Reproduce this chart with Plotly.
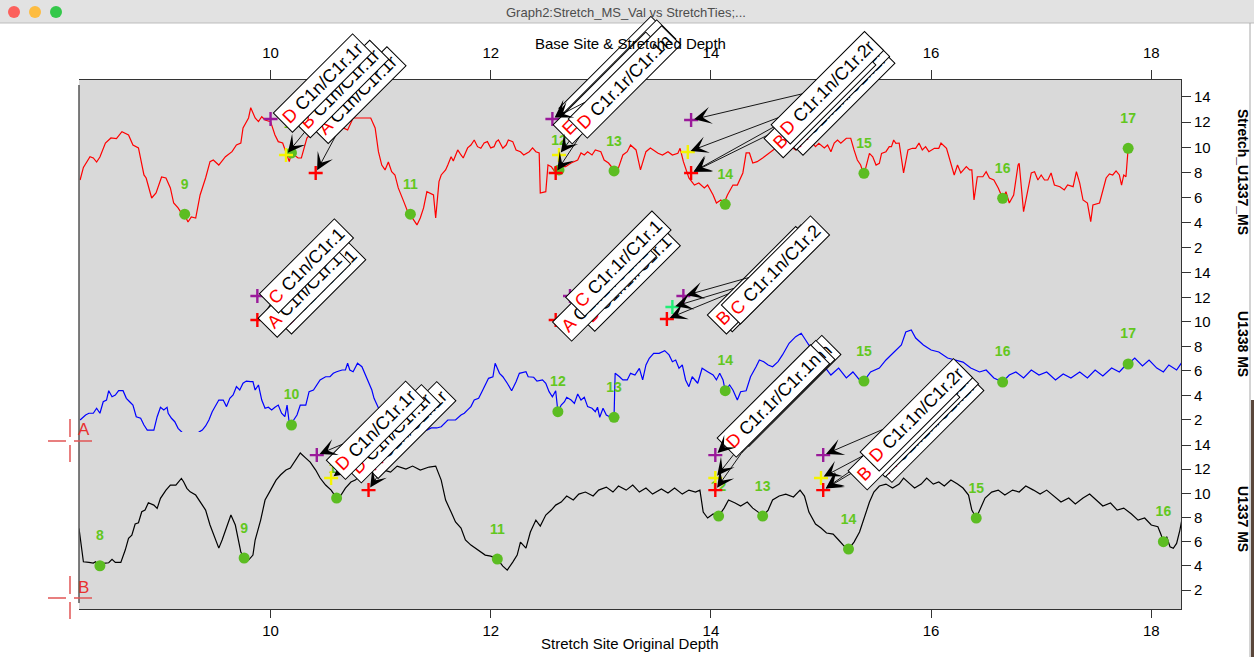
import plotly.graph_objects as go

FONT = "Liberation Sans, Arial, Helvetica, sans-serif"

# ---------------- data (depth, value) ----------------
red_pts = [(8.27,7.4),(8.30,8.4),(8.36,9.25),(8.39,9.15),(8.42,8.83),(8.45,9.23),(8.50,10.34),(8.55,10.74),(8.60,10.69),(8.65,11.24),
 (8.71,10.98),(8.75,10.18),(8.80,9.95),(8.85,7.80),(8.87,7.56),(8.92,5.97),(8.96,6.37),(9.01,7.64),(9.05,7.56),(9.09,6.77),
 (9.12,5.57),(9.16,5.18),(9.19,4.78),(9.22,4.62),(9.25,4.06),(9.28,4.46),(9.32,4.38),(9.36,6.21),(9.41,7.56),(9.45,8.86),
 (9.48,8.99),(9.53,8.59),(9.59,9.25),(9.65,9.65),(9.69,10.18),(9.73,10.34),(9.75,11.54),(9.80,12.33),(9.82,13.15),(9.86,12.33),
 (9.89,12.04),(9.92,12.43),(9.95,12.17),(10.00,12.04),(10.04,10.98),(10.07,10.45),(10.11,10.34),(10.13,9.79),(10.17,8.86),(10.19,9.55),
 (10.22,9.31),(10.25,9.15),(10.28,9.15),(10.33,10.74),(10.38,11.22),(10.44,11.54),(10.49,11.62),(10.55,11.64),(10.59,11.54),(10.64,11.64),
 (10.66,11.54),(10.70,11.38),(10.75,12.33),(10.84,12.33),(10.91,12.33),(10.95,11.54),(10.98,9.65),(11.01,8.59),(11.04,8.20),(11.07,8.83),
 (11.10,8.06),(11.13,7.80),(11.16,6.77),(11.21,5.68),(11.25,4.78),(11.28,4.48),(11.33,3.83),(11.36,4.38),(11.39,5.18),(11.42,6.47),
 (11.45,6.37),(11.48,6.21),(11.50,4.38),(11.53,7.27),(11.55,7.80),(11.59,8.20),(11.61,8.59),(11.64,9.25),(11.66,8.91),(11.70,9.79),
 (11.73,9.39),(11.75,9.15),(11.79,9.95),(11.82,10.18),(11.85,10.58),(11.88,10.05),(11.91,9.92),(11.94,10.34),(11.97,10.45),(12.00,9.95),
 (12.03,10.05),(12.05,10.45),(12.07,10.58),(12.11,9.92),(12.14,10.18),(12.16,10.58),(12.20,10.45),(12.23,9.79),(12.27,9.65),(12.30,9.39),
 (12.35,9.65),(12.38,9.95),(12.41,9.65),(12.44,9.55),(12.45,6.37),(12.50,6.47),(12.52,8.59),(12.55,8.46),(12.59,7.96),(12.62,8.20),
 (12.65,8.46),(12.68,8.46),(12.73,8.75),(12.79,8.99),(12.82,9.55),(12.85,9.39),(12.88,9.65),(12.92,9.39),(12.95,9.79),(13.00,9.65),
 (13.03,8.99),(13.07,8.75),(13.12,8.20),(13.16,8.36),(13.20,9.39),(13.24,9.65),(13.27,10.18),(13.32,9.79),(13.36,8.20),(13.41,9.65),
 (13.45,9.95),(13.52,9.52),(13.56,9.39),(13.61,9.65),(13.65,9.39),(13.70,9.52),(13.72,9.92),(13.75,8.86),(13.80,7.56),(13.85,7.00),
 (13.89,7.16),(13.94,6.77),(13.97,7.00),(14.02,6.21),(14.05,5.57),(14.09,5.81),(14.12,5.57),(14.15,6.21),(14.20,7.00),(14.24,7.00),
 (14.29,7.96),(14.32,9.55),(14.35,9.55),(14.38,8.75),(14.42,8.86),(14.47,9.15),(14.53,9.55),(14.59,9.95),(14.68,10.34),(14.77,9.79),
 (14.86,10.58),(14.91,10.45),(14.95,10.05),(14.98,10.32),(15.03,9.95),(15.06,10.18),(15.09,9.65),(15.12,10.34),(15.15,10.58),(15.18,10.32),
 (15.23,10.72),(15.27,10.72),(15.30,9.79),(15.33,8.99),(15.36,8.59),(15.39,7.80),(15.44,9.52),(15.47,9.25),(15.50,8.59),(15.53,8.73),
 (15.55,9.52),(15.59,9.65),(15.62,10.05),(15.64,10.05),(15.66,10.58),(15.68,10.32),(15.71,10.34),(15.75,7.96),(15.79,9.79),(15.83,9.92),
 (15.86,9.92),(15.89,10.34),(15.92,9.79),(15.95,10.05),(15.98,9.65),(16.03,9.92),(16.07,9.92),(16.09,10.34),(16.14,9.92),(16.16,9.25),
 (16.21,7.80),(16.24,8.59),(16.27,7.96),(16.32,8.46),(16.35,8.20),(16.37,8.20),(16.39,5.81),(16.42,7.66),(16.47,7.66),(16.50,8.06),
 (16.53,7.56),(16.57,7.40),(16.61,6.77),(16.65,5.95),(16.68,6.47),(16.71,5.57),(16.75,6.21),(16.79,8.59),(16.80,8.73),(16.84,4.88),
 (16.87,6.21),(16.91,7.96),(16.94,8.06),(16.97,7.40),(17.00,7.80),(17.03,7.40),(17.06,7.40),(17.09,7.96),(17.12,7.00),(17.17,6.87),
 (17.21,6.61),(17.24,7.00),(17.29,6.87),(17.32,8.06),(17.35,7.16),(17.38,5.81),(17.42,5.57),(17.45,4.09),(17.47,5.41),(17.53,5.57),
 (17.59,7.56),(17.62,7.88),(17.65,7.80),(17.68,8.12),(17.71,7.80),(17.73,7.00),(17.75,7.80),(17.77,7.66),(17.79,9.92)]

blue_pts = [(8.27,2.0),(8.32,2.41),(8.35,2.55),(8.39,2.55),(8.42,2.96),(8.45,2.55),(8.48,3.49),(8.51,3.63),(8.53,4.39),(8.56,3.90),
 (8.59,4.04),(8.62,4.39),(8.66,4.39),(8.69,3.77),(8.72,3.49),(8.75,3.22),(8.78,2.27),(8.82,2.14),(8.85,1.59),(8.88,1.18),
 (8.94,1.18),(8.97,2.27),(9.00,3.04),(9.03,2.82),(9.06,3.04),(9.07,2.55),(9.10,2.14),(9.13,1.86),(9.16,1.32),(9.19,1.04),
 (9.23,0.69),(9.27,0.53),(9.32,0.61),(9.35,1.02),(9.38,1.18),(9.41,1.51),(9.44,2.0),(9.47,2.68),(9.50,3.22),(9.53,3.63),
 (9.57,3.63),(9.60,3.09),(9.63,3.77),(9.66,4.04),(9.69,4.72),(9.72,4.45),(9.75,5.0),(9.78,5.18),(9.82,5.13),(9.84,5.13),
 (9.86,4.45),(9.89,4.86),(9.92,3.63),(9.95,2.96),(9.98,3.04),(10.01,2.82),(10.04,3.04),(10.07,3.22),(10.10,2.55),(10.13,2.27),
 (10.15,3.22),(10.17,1.73),(10.19,1.59),(10.21,2.0),(10.24,2.41),(10.27,3.22),(10.32,3.22),(10.35,4.31),(10.39,4.45),(10.42,4.86),
 (10.45,5.27),(10.50,5.53),(10.54,5.53),(10.57,5.81),(10.60,5.94),(10.65,6.08),(10.68,6.08),(10.70,6.63),(10.72,6.08),(10.75,5.94),
 (10.79,6.63),(10.83,6.35),(10.86,5.67),(10.89,5.0),(10.92,4.45),(10.94,3.77),(10.98,2.98),(11.03,2.41),(11.07,2.0),(11.12,1.35),
 (11.16,0.86),(11.23,0.53),(11.29,0.69),(11.35,0.94),(11.38,1.18),(11.42,1.18),(11.46,1.35),(11.51,1.35),(11.55,1.45),(11.61,2.0),
 (11.68,2.0),(11.73,2.41),(11.76,2.55),(11.79,2.82),(11.82,3.09),(11.85,3.63),(11.89,3.77),(11.92,4.31),(11.95,4.86),(11.98,5.40),
 (12.02,5.53),(12.04,6.63),(12.08,5.81),(12.11,5.53),(12.15,5.0),(12.19,4.39),(12.23,5.13),(12.26,5.81),(12.32,5.94),(12.34,5.53),
 (12.39,5.49),(12.42,5.18),(12.47,5.27),(12.50,5.0),(12.53,4.31),(12.56,3.90),(12.59,4.39),(12.61,2.68),(12.64,3.22),(12.67,3.49),
 (12.69,3.85),(12.73,3.63),(12.76,3.36),(12.79,4.12),(12.82,3.63),(12.85,3.85),(12.88,3.09),(12.92,2.96),(12.95,2.68),(12.97,3.04),
 (12.99,2.22),(13.02,2.96),(13.05,2.41),(13.08,2.27),(13.12,2.22),(13.13,5.81),(13.17,5.53),(13.20,5.27),(13.24,5.27),(13.27,5.81),
 (13.31,5.67),(13.35,6.22),(13.38,5.27),(13.41,6.49),(13.44,7.04),(13.48,7.44),(13.53,7.44),(13.58,7.66),(13.62,7.31),(13.65,6.76),
 (13.68,6.90),(13.71,6.22),(13.74,6.49),(13.77,5.27),(13.80,4.72),(13.83,5.53),(13.88,5.0),(13.92,6.22),(13.97,5.94),(14.02,5.67),
 (14.05,5.27),(14.08,5.81),(14.11,5.27),(14.13,4.39),(14.17,4.86),(14.20,4.45),(14.24,3.63),(14.27,4.31),(14.32,4.39),(14.36,5.53),
 (14.41,6.35),(14.44,6.90),(14.48,6.76),(14.52,6.49),(14.56,6.35),(14.61,6.76),(14.65,7.31),(14.71,8.26),(14.77,8.80),(14.82,9.08),
 (14.86,8.53),(14.89,8.12),(14.95,7.55),(15.02,6.49),(15.09,5.67),(15.16,6.24),(15.23,5.43),(15.29,5.92),(15.35,5.27),(15.39,5.18),
 (15.45,5.92),(15.53,6.24),(15.59,6.90),(15.66,7.55),(15.73,8.12),(15.77,9.18),(15.82,9.35),(15.86,8.69),(15.93,8.12),(16.00,7.71),
 (16.07,7.55),(16.15,7.06),(16.23,6.90),(16.29,6.73),(16.36,6.24),(16.44,5.92),(16.50,6.08),(16.57,5.43),(16.65,5.10),(16.71,5.67),
 (16.77,5.92),(16.84,5.43),(16.91,6.08),(16.98,5.67),(17.05,5.92),(17.13,5.27),(17.20,5.76),(17.27,5.43),(17.35,5.92),(17.42,5.43),
 (17.49,6.08),(17.56,5.59),(17.64,6.24),(17.71,5.92),(17.76,6.41),(17.79,6.57),(17.85,7.06),(17.92,6.41),(17.98,6.90),(18.05,6.24),
 (18.11,5.92),(18.16,6.49),(18.23,6.08),(18.28,6.73)]

black_pts = [(8.26,7.10),(8.29,4.75),(8.30,4.34),(8.35,4.29),(8.39,4.23),(8.41,4.34),(8.44,4.01),(8.45,4.01),(8.48,4.21),(8.53,4.26),
 (8.56,4.54),(8.59,4.29),(8.64,4.29),(8.68,5.31),(8.71,6.28),(8.74,6.55),(8.77,7.46),(8.80,7.57),(8.83,8.48),(8.86,8.62),
 (8.89,9.22),(8.94,9.03),(8.97,8.76),(9.00,9.59),(9.05,10.27),(9.09,10.69),(9.14,10.69),(9.19,11.24),(9.21,10.96),(9.24,10.42),
 (9.27,10.13),(9.32,9.86),(9.35,9.45),(9.41,8.62),(9.45,7.38),(9.50,6.14),(9.53,5.47),(9.56,6.14),(9.59,6.96),(9.64,8.21),
 (9.68,7.38),(9.73,5.14),(9.76,4.65),(9.80,4.48),(9.84,4.89),(9.86,6.14),(9.91,7.79),(9.95,9.45),(10.00,10.27),(10.05,11.10),
 (10.09,11.52),(10.14,11.93),(10.18,12.10),(10.23,12.76),(10.27,13.34),(10.32,12.92),(10.36,12.59),(10.41,11.93),(10.45,11.27),(10.50,10.69),
 (10.55,10.27),(10.60,9.61),(10.64,9.86),(10.68,10.44),(10.73,10.94),(10.77,11.10),(10.82,11.52),(10.88,11.93),(10.95,12.10),(11.03,11.93),
 (11.09,11.76),(11.15,12.26),(11.23,12.01),(11.29,12.26),(11.36,11.93),(11.44,12.18),(11.50,12.26),(11.55,11.10),(11.59,9.45),(11.64,8.45),
 (11.68,7.63),(11.73,7.13),(11.77,6.14),(11.82,5.72),(11.86,5.47),(11.91,5.14),(11.95,4.89),(12.00,4.81),(12.06,4.56),(12.11,3.98),
 (12.15,3.65),(12.20,4.31),(12.24,4.89),(12.27,5.97),(12.32,5.47),(12.36,6.80),(12.41,7.79),(12.45,7.29),(12.50,8.21),(12.55,8.62),
 (12.59,9.03),(12.64,9.28),(12.69,9.78),(12.75,9.45),(12.80,9.94),(12.86,10.11),(12.93,9.78),(12.98,10.27),(13.05,10.52),(13.11,10.11),
 (13.16,10.61),(13.23,10.27),(13.29,10.69),(13.35,10.11),(13.41,10.44),(13.47,9.94),(13.55,10.36),(13.61,10.03),(13.67,10.44),(13.74,9.94),
 (13.80,10.27),(13.86,10.11),(13.90,10.27),(13.93,8.45),(13.97,7.96),(14.02,8.29),(14.07,8.12),(14.12,8.78),(14.16,9.45),(14.22,9.20),
 (14.27,8.95),(14.33,9.28),(14.38,8.78),(14.43,8.45),(14.47,8.12),(14.52,8.62),(14.56,9.45),(14.62,9.78),(14.68,9.94),(14.75,9.70),
 (14.81,10.27),(14.85,9.78),(14.89,8.45),(14.95,7.46),(15.00,7.13),(15.05,6.72),(15.11,6.63),(15.16,6.14),(15.21,5.64),(15.25,5.39),
 (15.30,5.97),(15.35,6.80),(15.39,7.96),(15.44,9.28),(15.48,10.11),(15.53,10.61),(15.59,10.77),(15.65,10.44),(15.71,10.77),(15.75,11.27),
 (15.80,10.85),(15.85,10.44),(15.91,10.77),(15.96,11.27),(16.02,10.77),(16.07,10.94),(16.12,10.61),(16.18,11.10),(16.24,10.77),(16.29,10.44),
 (16.34,9.86),(16.37,8.62),(16.41,7.96),(16.45,8.78),(16.49,9.61),(16.55,10.11),(16.61,10.27),(16.67,9.86),(16.74,10.27),(16.80,10.11),
 (16.86,10.61),(16.93,10.27),(16.99,9.94),(17.05,10.27),(17.12,9.70),(17.18,9.28),(17.25,9.61),(17.31,9.12),(17.38,9.61),(17.44,9.94),
 (17.50,9.45),(17.56,8.95),(17.63,9.20),(17.69,8.62),(17.75,8.78),(17.82,8.29),(17.88,7.79),(17.94,7.96),(18.00,7.38),(18.06,7.24),
 (18.09,6.55),(18.11,6.00),(18.14,6.41),(18.17,5.58),(18.20,5.45),(18.23,5.86),(18.26,6.96),(18.28,7.93)]

red_x, red_y = [p[0] for p in red_pts], [p[1] for p in red_pts]
blue_x, blue_y = [p[0] for p in blue_pts], [p[1] for p in blue_pts]
black_x, black_y = [p[0] for p in black_pts], [p[1] for p in black_pts]

# numbered tie points (green dots)
top_dot_x = [9.22, 10.19, 11.27, 12.62, 13.12, 14.13, 15.39, 16.65, 17.79]
top_dot_y = [4.68, 9.55, 4.68, 8.20, 8.12, 5.47, 7.93, 5.95, 9.92]
top_dot_n = ["9", "10", "11", "12", "13", "14", "15", "16", "17"]
mid_dot_x = [10.19, 12.61, 13.12, 14.13, 15.39, 16.65, 17.79]
mid_dot_y = [1.59, 2.68, 2.22, 4.39, 5.18, 5.10, 6.57]
mid_dot_n = ["10", "12", "13", "14", "15", "16", "17"]
bot_dot_x = [8.45, 9.76, 10.60, 12.06, 14.07, 14.47, 15.25, 16.41, 18.11]
bot_dot_y = [4.01, 4.65, 9.61, 4.56, 8.12, 8.12, 5.39, 7.96, 6.00]
bot_dot_n = ["8", "9", "10", "11", "12", "13", "14", "15", "16"]

# tie cursor markers (+)
P, Y, R, G = "#9a1a9a", "#f4f400", "#ff0000", "#22ee77"
top_tie_x = [10.00, 10.14, 10.41, 12.56, 12.62, 12.59, 13.82, 13.79, 13.82]
top_tie_y = [12.25, 9.39, 7.96, 12.25, 9.39, 7.96, 12.17, 9.63, 7.96]
top_tie_c = [P, Y, R, P, Y, R, P, Y, R]
mid_tie_x = [9.88, 9.88, 12.72, 12.59, 13.75, 13.65, 13.60]
mid_tie_y = [12.12, 10.16, 12.12, 10.16, 12.12, 11.22, 10.24]
mid_tie_c = [P, R, P, R, P, G, R]
bot_tie_x = [10.42, 10.55, 10.89, 14.04, 14.04, 14.04, 15.02, 15.00, 15.02]
bot_tie_y = [13.17, 11.27, 10.27, 13.17, 11.27, 10.27, 13.17, 11.27, 10.27]
bot_tie_c = [P, Y, R, P, Y, R, P, Y, R]

# tie labels
lab_axis = ["y"]*11 + ["y2"]*9 + ["y3"]*10
lab_letter = ["A","B","D", "A","B","E","D", "A","C","B","D",
              "B","A","C", "B","A","C", "A","B","C",
              "A","D","D", "A","E","D", "A","C","B","D"]
lab_name = ["C1n/C1r.1r"]*3 + ["C1r.1r/C1r.1n"]*4 + ["C1r.1n/C1r.2r"]*4 + \
           ["C1n/C1r.1"]*3 + ["C1r.1r/C1r.1"]*3 + ["C1r.1n/C1r.2"]*3 + \
           ["C1n/C1r.1r"]*3 + ["C1r.1r/C1r.1n"]*3 + ["C1r.1n/C1r.2r"]*4
lab_x = [10.41, 10.14, 10.00, 12.56, 12.59, 12.62, 12.56, 13.82, 13.82, 13.79, 13.82,
         9.88, 9.88, 9.88, 12.72, 12.59, 12.72, 13.60, 13.65, 13.75,
         10.89, 10.55, 10.42, 14.04, 14.04, 14.04, 15.02, 15.02, 15.00, 15.02]
lab_y = [7.96, 9.39, 12.25, 12.25, 7.96, 9.39, 12.25, 7.96, 7.96, 9.63, 12.17,
         10.16, 10.16, 12.12, 11.14, 10.16, 12.12, 10.24, 11.22, 12.12,
         10.27, 11.27, 13.17, 10.27, 11.27, 13.17, 10.27, 10.27, 11.27, 13.17]
lab_dx = [42, 54, 52, 62, 64, 50, 72, 148, 142, 132, 136,
          62, 47, 49, 58, 49, 48, 100, 89, 92,
          39, 60, 59, 70, 64, 58, 105, 99, 83, 93]
lab_dy = [-78, -66, -36, -47, -97, -67, -37, -73, -79, -50, -32,
          -33, -29, -30, -29, -31, -32, -41, -27, -26,
          -60, -44, -25, -99, -82, -54, -63, -69, -44, -40]

XR = [8.26, 18.27]
XT = [10, 12, 14, 16, 18]
YT = [2, 4, 6, 8, 10, 12, 14]

fig = go.Figure()

fig.add_trace(go.Scatter(x=red_x, y=red_y, mode="lines", line=dict(color="#ff0000", width=1.2),
                         xaxis="x", yaxis="y", hoverinfo="skip"))
fig.add_trace(go.Scatter(x=blue_x, y=blue_y, mode="lines", line=dict(color="#0000ff", width=1.2),
                         xaxis="x", yaxis="y2", hoverinfo="skip"))
fig.add_trace(go.Scatter(x=black_x, y=black_y, mode="lines", line=dict(color="#000000", width=1.2),
                         xaxis="x", yaxis="y3", hoverinfo="skip"))

DOT = "#5cbd22"
for dx, dy, dn, ya, off in [(top_dot_x, top_dot_y, top_dot_n, "y", 2.3),
                            (mid_dot_x, mid_dot_y, mid_dot_n, "y2", 2.37),
                            (bot_dot_x, bot_dot_y, bot_dot_n, "y3", 2.4)]:
    fig.add_trace(go.Scatter(x=dx, y=dy, mode="markers", marker=dict(color=DOT, size=11),
                             xaxis="x", yaxis=ya, hoverinfo="skip"))
    fig.add_trace(go.Scatter(x=dx, y=[v + off for v in dy], mode="text", text=dn,
                             textfont=dict(color="#62c71e", size=14, family=FONT, weight="bold"),
                             xaxis="x", yaxis=ya, hoverinfo="skip"))

for tx, ty, tc, ya in [(top_tie_x, top_tie_y, top_tie_c, "y"),
                       (mid_tie_x, mid_tie_y, mid_tie_c, "y2"),
                       (bot_tie_x, bot_tie_y, bot_tie_c, "y3")]:
    fig.add_trace(go.Scatter(x=tx, y=ty, mode="markers",
                             marker=dict(symbol="cross-thin", size=10, line=dict(color=tc, width=2.4)),
                             xaxis="x", yaxis=ya, hoverinfo="skip"))

# invisible trace so the top (stretched depth) axis is drawn
fig.add_trace(go.Scatter(x=[red_x[0]], y=[red_y[0]], mode="markers", marker=dict(opacity=0),
                         xaxis="x2", yaxis="y", hoverinfo="skip"))

annotations = []
for i in range(len(lab_name)):
    annotations.append(dict(
        x=lab_x[i], y=lab_y[i], xref="x", yref=lab_axis[i],
        ax=lab_dx[i], ay=lab_dy[i], axref="pixel", ayref="pixel",
        text='<span style="color:#ff0000">%s</span> %s' % (lab_letter[i], lab_name[i]),
        textangle=-45, showarrow=True, arrowhead=3, arrowsize=3.2, arrowwidth=0.9,
        arrowcolor="black", standoff=3,
        font=dict(family=FONT, size=18, color="black"),
        bgcolor="white", bordercolor="black", borderwidth=1, borderpad=3))


def px(v):
    return (v - 79) / 1102


def py(v):
    return (609 - v) / 529


def note(text, x, y, size=15, color="black", angle=0, xanchor="center"):
    return dict(text=text, x=x, y=y, xref="paper", yref="paper", showarrow=False,
                xanchor=xanchor, yanchor="middle", textangle=angle,
                font=dict(family=FONT, size=size, color=color))


# axis titles
annotations.append(note("Base Site & Stretched Depth", px(630), py(43)))
annotations.append(note("Stretch Site Original Depth", px(630), py(643)))
for t, yy in [("Stretch_U1337_MS", 172), ("U1338 MS", 344), ("U1337 MS", 519)]:
    annotations.append(note("<b>%s</b>" % t, px(1243), py(yy), size=14, angle=90))
# window title
annotations.append(note("Graph2:Stretch_MS_Val vs StretchTies;...", px(626), py(12), size=13, color="#4d4d4d"))
# cursor labels
for t, yy in [("A", 429), ("B", 587)]:
    annotations.append(note(t, px(76), py(yy), size=17, color="#e8302f", xanchor="left"))

shapes = []
# window title bar
shapes.append(dict(type="rect", xref="paper", yref="paper", x0=px(-5), x1=px(1260), y0=py(23), y1=py(-5),
                   fillcolor="#e2e2e2", line=dict(width=0)))
shapes.append(dict(type="line", xref="paper", yref="paper", x0=px(0), x1=px(1254), y0=py(23), y1=py(23),
                   line=dict(color="#bdbdbd", width=1)))
for cx, col in [(14, "#fc605c"), (35, "#fdbc40"), (56, "#34c84a")]:
    shapes.append(dict(type="circle", xref="paper", yref="paper", x0=px(cx - 6), x1=px(cx + 6),
                       y0=py(18), y1=py(6), fillcolor=col, line=dict(width=0)))
# left frame line
shapes.append(dict(type="line", xref="paper", yref="paper", x0=0, x1=0, y0=py(603), y1=py(85),
                   line=dict(color="#555555", width=1.5)))
# cursors A and B
CUR = "#e05555"
for cy in [441, 598]:
    for a, b in [(48, 66), (74, 92)]:
        shapes.append(dict(type="line", xref="paper", yref="paper", x0=px(a), x1=px(b), y0=py(cy), y1=py(cy),
                           line=dict(color=CUR, width=1.5)))
    for a, b in [(cy - 22, cy - 4), (cy + 4, cy + 21)]:
        shapes.append(dict(type="line", xref="paper", yref="paper", x0=px(70), x1=px(70), y0=py(a), y1=py(b),
                           line=dict(color=CUR, width=1.5)))
# right window edge
shapes.append(dict(type="line", xref="paper", yref="paper", x0=px(1250), x1=px(1250), y0=py(23), y1=py(660),
                   line=dict(color="#a8a8a8", width=1)))
shapes.append(dict(type="rect", xref="paper", yref="paper", x0=px(1251), x1=px(1256), y0=py(400), y1=py(660),
                   fillcolor="#5a463a", line=dict(width=0)))

axis_common = dict(showgrid=False, zeroline=False, showline=True, linecolor="#333333", linewidth=1,
                   ticks="outside", tickcolor="#333333", tickwidth=1,
                   tickfont=dict(family=FONT, size=15, color="black"))

fig.update_layout(
    width=1254, height=657,
    margin=dict(l=79, r=73, t=80, b=48, autoexpand=False),
    paper_bgcolor="white", plot_bgcolor="#d9d9d9",
    showlegend=False,
    xaxis=dict(range=XR, tickvals=XT, anchor="y3", ticklen=8, **axis_common),
    xaxis2=dict(range=XR, tickvals=XT, overlaying="x", side="top", anchor="y", ticklen=9,
                ticklabelstandoff=6, **axis_common),
    yaxis=dict(domain=[py(260), 1], range=[1.04, 15.35], tickvals=YT, side="right", anchor="x", ticklen=9,
               **axis_common),
    yaxis2=dict(domain=[py(432), py(260)], range=[1.02, 15.06], tickvals=YT, side="right", anchor="x",
                ticklen=9, **axis_common),
    yaxis3=dict(domain=[0, py(432)], range=[0.43, 15.08], tickvals=YT, side="right", anchor="x", ticklen=9,
                **axis_common),
    annotations=annotations,
    shapes=shapes,
)

fig.write_html("out.html", config={"displayModeBar": False},
               post_script="document.body.style.margin='0px';")
